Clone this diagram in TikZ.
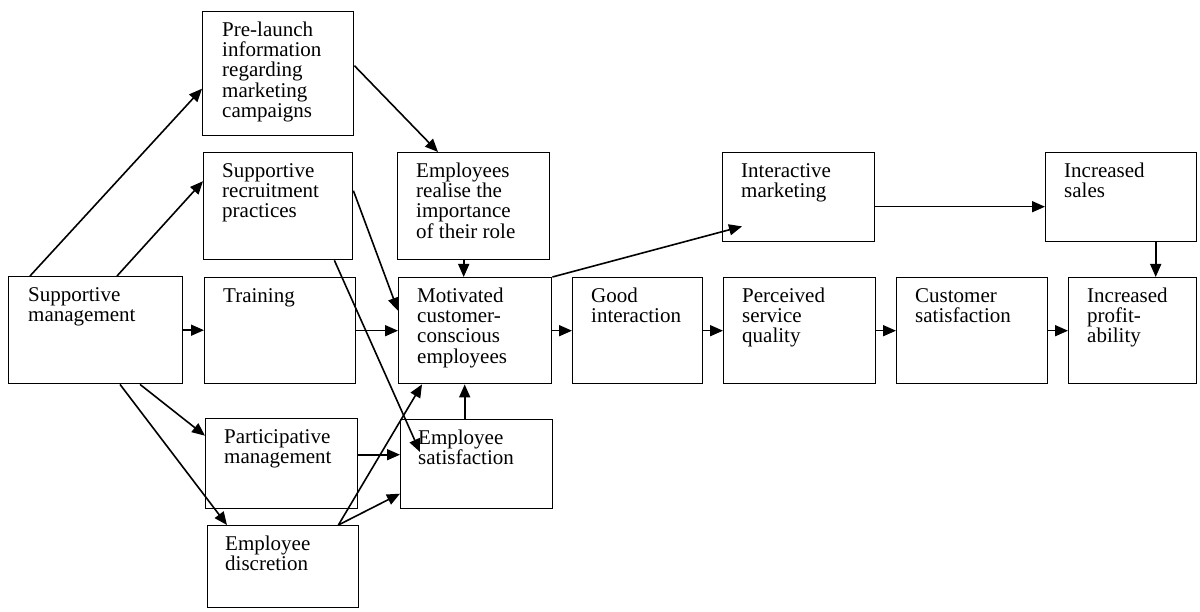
\documentclass[tikz,border=0pt]{standalone}
\usepackage{fontspec}
\setmainfont{Liberation Serif}
\usetikzlibrary{arrows.meta}
% fixed first-line height so every label starts at the same depth
\newcommand\topstrut{\rule{0pt}{15pt}}
\begin{document}
\begin{tikzpicture}[x=1pt,y=-1pt,
  card/.style={draw, line width=1.4pt, anchor=north west, inner sep=0pt, rectangle},
  txt/.style={anchor=north west, inner sep=0pt, align=left, font=\fontsize{21}{20.4}\selectfont},
  link/.style={line width=1.6pt, -{Triangle[length=13pt,width=11pt]}}]
\useasboundingbox (0,0) rectangle (1200,612);

% ---- boxes ----
\node[card, minimum width=151pt, minimum height=124pt] (pl) at (202,11) {};
\node[card, minimum width=149pt, minimum height=107pt] (sr) at (203,152) {};
\node[card, minimum width=152pt, minimum height=107pt] (er) at (397,152) {};
\node[card, minimum width=174pt, minimum height=107pt] (sm) at (8,276) {};
\node[card, minimum width=151pt, minimum height=106pt] (tr) at (204,277) {};
\node[card, minimum width=153pt, minimum height=106pt] (mo) at (398,277) {};
\node[card, minimum width=130pt, minimum height=106pt] (gi) at (572,277) {};
\node[card, minimum width=152pt, minimum height=106pt] (ps) at (723,277) {};
\node[card, minimum width=151pt, minimum height=106pt] (cs) at (896,277) {};
\node[card, minimum width=128pt, minimum height=106pt] (ip) at (1068,277) {};
\node[card, minimum width=152pt, minimum height=89pt] (im) at (722,152) {};
\node[card, minimum width=151pt, minimum height=89pt] (is) at (1045,152) {};
\node[card, minimum width=152pt, minimum height=90pt] (pm) at (205,418) {};
\node[card, minimum width=152pt, minimum height=89pt] (es) at (400,419) {};
\node[card, minimum width=151pt, minimum height=82pt] (ed) at (207,525) {};

% ---- labels ----
\node[txt] (pl-t) at ([xshift=20pt,yshift=-10pt]pl.north west) {\topstrut Pre-launch\\information\\regarding\\marketing\\campaigns};
\node[txt] (sr-t) at ([xshift=19pt,yshift=-10pt]sr.north west) {\topstrut Supportive\\recruitment\\practices};
\node[txt] (er-t) at ([xshift=19pt,yshift=-10pt]er.north west) {\topstrut Employees\\realise the\\importance\\of their role};
\node[txt] (sm-t) at ([xshift=20pt,yshift=-10pt]sm.north west) {\topstrut Supportive\\management};
\node[txt] (tr-t) at ([xshift=19pt,yshift=-10pt]tr.north west) {\topstrut Training};
\node[txt] (mo-t) at ([xshift=19pt,yshift=-10pt]mo.north west) {\topstrut Motivated\\customer-\\conscious\\employees};
\node[txt] (gi-t) at ([xshift=19pt,yshift=-10pt]gi.north west) {\topstrut Good\\interaction};
\node[txt] (ps-t) at ([xshift=19pt,yshift=-10pt]ps.north west) {\topstrut Perceived\\service\\quality};
\node[txt] (cs-t) at ([xshift=19pt,yshift=-10pt]cs.north west) {\topstrut Customer\\satisfaction};
\node[txt] (ip-t) at ([xshift=19pt,yshift=-10pt]ip.north west) {\topstrut Increased\\profit-\\ability};
\node[txt] (im-t) at ([xshift=19pt,yshift=-10pt]im.north west) {\topstrut Interactive\\marketing};
\node[txt] (is-t) at ([xshift=19pt,yshift=-10pt]is.north west) {\topstrut Increased\\sales};
\node[txt] (pm-t) at ([xshift=19pt,yshift=-10pt]pm.north west) {\topstrut Participative\\management};
\node[txt] (es-t) at ([xshift=18pt,yshift=-10pt]es.north west) {\topstrut Employee\\satisfaction};
\node[txt] (ed-t) at ([xshift=18pt,yshift=-10pt]ed.north west) {\topstrut Employee\\discretion};

% ---- connectors ----
\draw[link] ([xshift=22pt]sm.north west) -- ([yshift=-15pt]pl.west);
\draw[link] ([xshift=109pt]sm.north west) -- ([yshift=25pt]sr.west);
\draw[link] (sm.east) -- (sm.east -| tr.west);
\draw[link] ([xshift=132pt]sm.south west) -- ([yshift=28pt]pm.west);
\draw[link] ([xshift=112pt]sm.south west) -- ([xshift=20pt]ed.north west);

\draw[link] ([yshift=8pt]pl.east) -- ([xshift=41pt]er.north west);
\draw[link] ([yshift=15.5pt]sr.east) -- ([yshift=20pt]mo.west);
\draw[link] ([xshift=-19pt]sr.south east) -- ([xshift=20pt,yshift=-33pt]es.north west);
\draw[link] (tr.east) -- (tr.east -| mo.west);
\draw[link] ([xshift=-10pt]er.south) -- ([xshift=-10pt]er.south |- mo.north);
\draw[link] ([xshift=-12pt]es.north) -- ([xshift=-12pt]es.north |- mo.south);
\draw[link] ([yshift=9pt]pm.east) -- ([yshift=9pt]pm.east -| es.west);
\draw[link] ([xshift=-21pt]ed.north east) -- ([yshift=-29.5pt]es.west);
\draw[link] ([xshift=-21pt]ed.north east) -- ([xshift=24pt]mo.south west);

\draw[link] (mo.east) -- (mo.east -| gi.west);
\draw[link] (gi.east) -- (gi.east -| ps.west);
\draw[link] (ps.east) -- (ps.east -| cs.west);
\draw[link] (cs.east) -- (cs.east -| ip.west);

\draw[link] (mo.north east) -- ([xshift=20pt,yshift=16pt]im.south west);
\draw[link] ([yshift=-9.5pt]im.east) -- ([yshift=-9.5pt]im.east -| is.west);
\draw[link] ([xshift=34.5pt]is.south) -- ([xshift=34.5pt]is.south |- ip.north);
\end{tikzpicture}
\end{document}
